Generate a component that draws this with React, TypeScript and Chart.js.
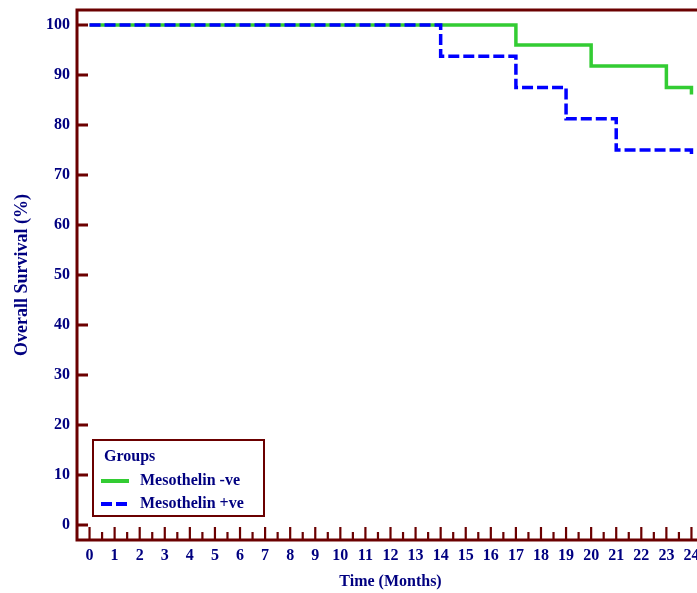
import { useEffect, useRef } from "react";
import { Chart, registerables } from "chart.js";

Chart.register(...registerables);

// ---- data ----
const negTimes = [0, 17, 20, 23, 24];
const negSurvival = [100, 96, 91.8, 87.5, 86.1];
const posTimes = [0, 14, 17, 19, 21, 24];
const posSurvival = [100, 93.75, 87.5, 81.25, 75, 73.7];
const xTickValues = [0, 1, 2, 3, 4, 5, 6, 7, 8, 9, 10, 11, 12, 13, 14, 15, 16, 17, 18, 19, 20, 21, 22, 23, 24];
const yTickValues = [0, 10, 20, 30, 40, 50, 60, 70, 80, 90, 100];
const seriesLabels = ["Mesothelin -ve", "Mesothelin +ve"];
const legendTitle = "Groups";
const xTitle = "Time (Months)";
const yTitle = "Overall Survival (%)";

const FONT = "'Liberation Serif', 'Times New Roman', serif";
const NAVY = "#000080";
const MAROON = "#6b0000";
const GREEN = "#33cc33";
const BLUE = "#0000ff";

const axesPlugin = {
  id: "kmAxes",
  afterDatasetsDraw(chart: any) {
    const { ctx, chartArea } = chart;
    const xs = chart.scales.x;
    const ys = chart.scales.y;
    const { left, right, top, bottom } = chartArea;
    ctx.save();
    ctx.strokeStyle = MAROON;
    ctx.lineCap = "butt";
    // frame
    ctx.lineWidth = 3;
    ctx.beginPath();
    ctx.moveTo(left, top);
    ctx.lineTo(right, top);
    ctx.moveTo(left, top - 1.5);
    ctx.lineTo(left, bottom + 1.5);
    ctx.moveTo(left - 1.5, bottom);
    ctx.lineTo(right, bottom);
    ctx.moveTo(right, top);
    ctx.lineTo(right, bottom);
    ctx.stroke();
    // y ticks (inward)
    ctx.lineWidth = 3;
    ctx.beginPath();
    yTickValues.forEach((v) => {
      const py = ys.getPixelForValue(v);
      ctx.moveTo(left, py);
      ctx.lineTo(left + 11, py);
    });
    ctx.stroke();
    // x ticks (upward), major and minor
    ctx.lineWidth = 2.2;
    ctx.beginPath();
    xTickValues.forEach((v) => {
      const px = xs.getPixelForValue(v);
      ctx.moveTo(px, bottom);
      ctx.lineTo(px, bottom - 13);
      const pm = xs.getPixelForValue(v + 0.5);
      if (pm < right - 1) {
        ctx.moveTo(pm, bottom);
        ctx.lineTo(pm, bottom - 8);
      }
    });
    ctx.stroke();

    // legend
    const bx = 93, by = 440, bw = 171, bh = 76;
    ctx.lineWidth = 2;
    ctx.fillStyle = "#ffffff";
    ctx.fillRect(bx, by, bw, bh);
    ctx.strokeRect(bx, by, bw, bh);
    ctx.fillStyle = NAVY;
    ctx.font = `bold 16px ${FONT}`;
    ctx.textBaseline = "middle";
    ctx.textAlign = "left";
    ctx.fillText(legendTitle, 104, 457);
    const ds = chart.data.datasets;
    const rows = [481, 504];
    ds.forEach((d: any, i: number) => {
      const y = rows[i];
      ctx.save();
      ctx.strokeStyle = d.borderColor;
      ctx.lineWidth = 4;
      ctx.setLineDash(d.borderDash || []);
      ctx.beginPath();
      ctx.moveTo(101, y);
      ctx.lineTo(i === 0 ? 129 : 128, y);
      ctx.stroke();
      ctx.restore();
      ctx.fillStyle = NAVY;
      ctx.fillText(d.label, 140, y);
    });
    ctx.restore();
  },
};

export default function App() {
  const ref = useRef<HTMLCanvasElement | null>(null);
  useEffect(() => {
    if (!ref.current) return;
    const chart = new Chart(ref.current, {
      type: "line",
      data: {
        datasets: [
          {
            label: seriesLabels[0],
            data: negTimes.map((t, i) => ({ x: t, y: negSurvival[i] })),
            borderColor: GREEN,
            borderWidth: 3.5,
            stepped: "before",
            pointRadius: 0,
            fill: false,
            order: 1,
          },
          {
            label: seriesLabels[1],
            data: posTimes.map((t, i) => ({ x: t, y: posSurvival[i] })),
            borderColor: BLUE,
            borderWidth: 3.5,
            borderDash: [11, 4],
            stepped: "before",
            pointRadius: 0,
            fill: false,
            order: 0,
          },
        ],
      } as any,
      options: {
        responsive: false,
        animation: false,
        devicePixelRatio: 1,
        layout: { padding: { top: 10, right: 6, left: 0, bottom: 0 } },
        plugins: { legend: { display: false }, tooltip: { enabled: false } },
        scales: {
          x: {
            type: "linear",
            min: -0.5,
            max: 24.5,
            grid: { display: false, drawTicks: false },
            border: { display: false },
            afterBuildTicks: (s: any) => {
              s.ticks = xTickValues.map((v) => ({ value: v }));
            },
            afterFit: (s: any) => {
              s.height = 53;
              s.paddingLeft = 0;
              s.paddingRight = 0;
            },
            ticks: {
              autoSkip: false,
              maxRotation: 0,
              color: NAVY,
              padding: 6,
              font: { family: FONT, size: 16, weight: "bold" },
            },
            title: {
              display: true,
              text: xTitle,
              color: NAVY,
              font: { family: FONT, size: 16, weight: "bold" },
              padding: { top: 0, bottom: 2 },
            },
          },
          y: {
            type: "linear",
            min: -3,
            max: 103,
            grid: { display: false, drawTicks: false },
            border: { display: false },
            afterBuildTicks: (s: any) => {
              s.ticks = yTickValues.map((v) => ({ value: v }));
            },
            afterFit: (s: any) => {
              s.width = 77;
              s.paddingTop = 0;
              s.paddingBottom = 0;
            },
            ticks: {
              color: NAVY,
              padding: 7,
              font: { family: FONT, size: 16, weight: "bold" },
            },
            title: {
              display: true,
              text: yTitle,
              color: NAVY,
              font: { family: FONT, size: 18, weight: "bold" },
              padding: { top: 12, bottom: 0 },
            },
          },
        },
      } as any,
      plugins: [axesPlugin],
    });
    return () => chart.destroy();
  }, []);
  return (
    <div
      style={{
        position: "fixed",
        left: 0,
        top: 0,
        width: 697,
        height: 593,
        overflow: "hidden",
        background: "#ffffff",
      }}
    >
      <canvas ref={ref} width={710} height={593} style={{ display: "block" }} />
    </div>
  );
}
